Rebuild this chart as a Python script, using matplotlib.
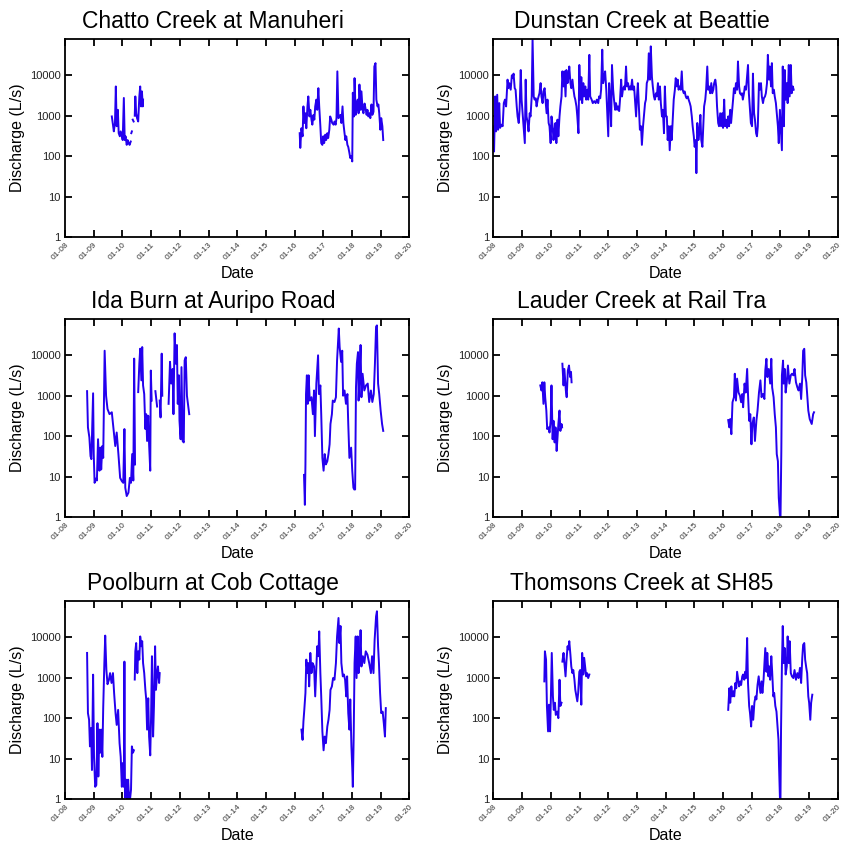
import numpy as np
import matplotlib
matplotlib.use('Agg')
import matplotlib.pyplot as plt
import matplotlib.dates as mdates
from matplotlib.ticker import FixedLocator, FuncFormatter, NullLocator
from datetime import datetime, timedelta

plt.rcParams['font.family'] = ['Liberation Sans', 'DejaVu Sans']

nan = np.nan

# discharge records, time in decimal years, flow in L/s (nan = gap in record)
chatto_t = [2009.63, 2009.67, 2009.70, 2009.74, 2009.77, 2009.80, 2009.84, 2009.87, 2009.91, 2009.94,
            2009.98, 2010.01, 2010.05, 2010.08, 2010.11, 2010.15, 2010.18, 2010.22, 2010.25, 2010.29,
            2010.30, 2010.31, 2010.33, 2010.34, 2010.36, 2010.39, 2010.41, 2010.43, 2010.45, 2010.48,
            2010.51, 2010.55, 2010.59, 2010.62, 2010.65, 2010.68, 2010.71, 2010.72, 2013.00,
            2016.18, 2016.20, 2016.24, 2016.28, 2016.31, 2016.34, 2016.38, 2016.41, 2016.45, 2016.48,
            2016.52, 2016.55, 2016.59, 2016.62, 2016.66, 2016.69, 2016.72, 2016.76, 2016.79, 2016.83,
            2016.86, 2016.90, 2016.93, 2016.97, 2017.00, 2017.03, 2017.07, 2017.10, 2017.14, 2017.17,
            2017.21, 2017.24, 2017.28, 2017.31, 2017.36, 2017.39, 2017.43, 2017.46, 2017.49, 2017.53,
            2017.56, 2017.60, 2017.63, 2017.67, 2017.70, 2017.74, 2017.77, 2017.80, 2017.84, 2017.87,
            2017.91, 2017.94, 2017.98, 2018.01, 2018.03, 2018.07, 2018.09, 2018.13, 2018.16, 2018.20,
            2018.23, 2018.26, 2018.30, 2018.33, 2018.37, 2018.40, 2018.44, 2018.47, 2018.51, 2018.54,
            2018.57, 2018.61, 2018.64, 2018.68, 2018.71, 2018.75, 2018.78, 2018.82, 2018.85, 2018.89,
            2018.92, 2018.95, 2018.99, 2019.02, 2019.06, 2019.09]
chatto_q = [960, 600, 410, 660, 5300, 550, 1400, 370, 310, 410,
            310, 250, 2750, 250, 310, 190, 250, 210, 190, 230,
            nan, 370, 410, nan, 800, 720, nan, 1000, 3000, 1150,
            870, 720, 3000, 5300, 1700, 4000, 1700, 2500, nan,
            370, 160, 490, 310, 1700, 660, 1150, 490, 1700, 3000,
            960, 1400, 800, 600, 1050, 800, 1700, 2500, 1400, 4800,
            1700, 550, 210, 190, 310, 210, 340, 250, 370, 280,
            450, 960, 800, 660, 600, 720, 600, 870, 12500, 870,
            960, 1050, 660, 1700, 660, 370, 250, 310, 190, 170,
            120, 90, 100, 74, 3700, 960, 8500, 1050, 1700, 2500,
            1150, 5900, 1400, 4000, 1400, 1150, 2000, 1550, 1050, 1400,
            960, 1150, 870, 1900, 1050, 1250, 16500, 20000, 2500, 1700,
            1900, 1150, 450, 870, 550, 250]

dunstan_t = [2008.00, 2008.02, 2008.06, 2008.09, 2008.13, 2008.16, 2008.20, 2008.23, 2008.28, 2008.32,
             2008.36, 2008.40, 2008.44, 2008.49, 2008.52, 2008.55, 2008.60, 2008.64, 2008.67, 2008.70,
             2008.74, 2008.77, 2008.81, 2008.84, 2008.88, 2008.91, 2008.95, 2008.98, 2009.02, 2009.05,
             2009.09, 2009.12, 2009.15, 2009.19, 2009.22, 2009.26, 2009.29, 2009.33, 2009.36, 2009.40,
             2009.43, 2009.47, 2009.50, 2009.54, 2009.57, 2009.60, 2009.64, 2009.67, 2009.71, 2009.74,
             2009.78, 2009.81, 2009.85, 2009.88, 2009.92, 2009.95, 2009.99, 2010.02, 2010.06, 2010.09,
             2010.12, 2010.16, 2010.19, 2010.23, 2010.26, 2010.30, 2010.33, 2010.37, 2010.40, 2010.44,
             2010.47, 2010.51, 2010.54, 2010.58, 2010.61, 2010.64, 2010.68, 2010.71, 2010.75, 2010.78,
             2010.82, 2010.85, 2010.89, 2010.92, 2010.96, 2010.99, 2011.03, 2011.06, 2011.09, 2011.13,
             2011.16, 2011.20, 2011.23, 2011.27, 2011.30, 2011.34, 2011.37, 2011.42, 2011.46, 2011.51,
             2011.56, 2011.60, 2011.65, 2011.68, 2011.72, 2011.75, 2011.79, 2011.82, 2011.86, 2011.89,
             2011.93, 2011.96, 2012.00, 2012.03, 2012.07, 2012.10, 2012.13, 2012.17, 2012.20, 2012.24,
             2012.27, 2012.31, 2012.34, 2012.38, 2012.41, 2012.45, 2012.48, 2012.51, 2012.55, 2012.58,
             2012.62, 2012.65, 2012.69, 2012.72, 2012.76, 2012.79, 2012.83, 2012.86, 2012.90, 2012.93,
             2012.97, 2013.00, 2013.03, 2013.07, 2013.10, 2013.14, 2013.17, 2013.21, 2013.24, 2013.28,
             2013.31, 2013.34, 2013.38, 2013.41, 2013.45, 2013.48, 2013.52, 2013.55, 2013.59, 2013.62,
             2013.66, 2013.69, 2013.73, 2013.76, 2013.80, 2013.83, 2013.87, 2013.90, 2013.94, 2013.97,
             2014.01, 2014.04, 2014.07, 2014.11, 2014.14, 2014.18, 2014.21, 2014.25, 2014.28, 2014.32,
             2014.35, 2014.39, 2014.42, 2014.45, 2014.49, 2014.52, 2014.56, 2014.59, 2014.63, 2014.66,
             2014.70, 2014.73, 2014.77, 2014.80, 2014.84, 2014.87, 2014.91, 2014.94, 2014.98, 2015.01,
             2015.05, 2015.07, 2015.10, 2015.14, 2015.17, 2015.21, 2015.24, 2015.28, 2015.31, 2015.34,
             2015.38, 2015.41, 2015.45, 2015.48, 2015.52, 2015.55, 2015.59, 2015.62, 2015.66, 2015.69,
             2015.73, 2015.76, 2015.79, 2015.83, 2015.86, 2015.90, 2015.93, 2015.97, 2016.00, 2016.04,
             2016.07, 2016.11, 2016.14, 2016.18, 2016.21, 2016.25, 2016.28, 2016.31, 2016.35, 2016.38,
             2016.42, 2016.45, 2016.49, 2016.52, 2016.56, 2016.59, 2016.63, 2016.66, 2016.69, 2016.73,
             2016.76, 2016.80, 2016.83, 2016.87, 2016.90, 2016.94, 2016.97, 2017.01, 2017.04, 2017.08,
             2017.11, 2017.15, 2017.18, 2017.21, 2017.25, 2017.28, 2017.32, 2017.35, 2017.39, 2017.42,
             2017.46, 2017.49, 2017.53, 2017.56, 2017.60, 2017.63, 2017.67, 2017.70, 2017.73, 2017.77,
             2017.80, 2017.84, 2017.87, 2017.91, 2017.94, 2017.98, 2018.01, 2018.05, 2018.08, 2018.12,
             2018.15, 2018.18, 2018.22, 2018.25, 2018.29, 2018.32, 2018.36, 2018.39, 2018.43, 2018.46]
dunstan_q = [540, 130, 3000, 410, 3300, 450, 2050, 500, 600, 550,
             2050, 2500, 1700, 7800, 4800, 6400, 4400, 10000, 8500, 11000,
             4800, 4400, 1700, 960, 660, 1400, 13500, 2500, 960, 450,
             210, 7800, 960, 660, 410, 1150, 960, 3000, 80000, 3000,
             2500, 2700, 1700, 2500, 3000, 3600, 6400, 3000, 2050, 4000,
             4800, 2500, 1150, 2500, 660, 550, 210, 960, 550, 250,
             410, 660, 210, 800, 310, 960, 1700, 3000, 12500, 5300,
             12500, 3000, 13500, 6400, 9000, 16500, 6400, 4800, 7800, 4800,
             3000, 2500, 1700, 960, 370, 18000, 2500, 9000, 2050, 6400,
             3000, 5300, 2500, 4400, 2500, 32000, 3000, 2500, 2050, 2300,
             2050, 2500, 2050, 3000, 2700, 4400, 43000, 6400, 9000, 12500,
             4400, 1400, 310, 6400, 2500, 550, 18000, 4400, 2500, 1400,
             2050, 1400, 1700, 1300, 2500, 7800, 3000, 4400, 5300, 4400,
             16500, 5300, 6400, 4400, 5300, 4400, 7800, 4400, 5300, 2500,
             960, 3000, 6400, 1400, 450, 550, 190, 550, 960, 2050,
             2500, 6400, 7800, 35000, 7800, 52000, 9000, 5300, 3000, 2500,
             3600, 3000, 6400, 2500, 5300, 2050, 960, 1400, 370, 5300,
             960, 960, 250, 550, 140, 550, 250, 960, 2500, 4400,
             8500, 5300, 7800, 4400, 5300, 4400, 12500, 4400, 3600, 4000,
             3000, 2700, 3000, 2500, 2050, 1700, 960, 550, 310, 170,
             250, 38, 660, 250, 370, 1050, 250, 170, 550, 1700,
             2500, 4400, 16500, 4400, 5300, 3600, 6400, 3600, 4400, 6400,
             7800, 5300, 1700, 660, 550, 1150, 550, 1150, 500, 2500,
             550, 800, 500, 960, 550, 1400, 660, 1150, 2500, 4800,
             3600, 6400, 4400, 22000, 5300, 3600, 3300, 3600, 2500, 3600,
             5300, 4400, 7800, 18000, 3600, 1400, 660, 550, 11000, 1150,
             800, 370, 310, 550, 6400, 4400, 6400, 3000, 2050, 2700,
             3000, 3600, 6400, 32000, 7800, 16500, 5300, 20000, 3600, 4400,
             3000, 2050, 1150, 550, 210, 1400, 550, 140, 16500, 550,
             13500, 2500, 6400, 2050, 18000, 3000, 18000, 3600, 5300, 4400]

ida_t = [2008.77, 2008.80, 2008.85, 2008.89, 2008.92, 2008.98, 2009.00, 2009.03, 2009.08, 2009.11,
         2009.15, 2009.20, 2009.23, 2009.26, 2009.30, 2009.33, 2009.38, 2009.43, 2009.48, 2009.55,
         2009.63, 2009.69, 2009.75, 2009.80, 2009.86, 2009.92, 2009.98, 2010.03, 2010.07, 2010.10,
         2010.15, 2010.21, 2010.26, 2010.30, 2010.34, 2010.38, 2010.41, 2010.44, 2010.50, 2010.55,
         2010.59, 2010.62, 2010.66, 2010.69, 2010.72, 2010.76, 2010.80, 2010.83, 2010.86, 2010.90,
         2010.93, 2010.97, 2010.99, 2011.02, 2011.08, 2011.15, 2011.21, 2011.25, 2011.30, 2011.33,
         2011.37, 2011.39, 2011.50, 2011.61, 2011.66, 2011.70, 2011.75, 2011.78, 2011.82, 2011.86,
         2011.90, 2011.93, 2011.97, 2011.99, 2012.03, 2012.06, 2012.10, 2012.14, 2012.17, 2012.21,
         2012.25, 2012.30, 2012.33, 2014.00,
         2016.33, 2016.36, 2016.38, 2016.40, 2016.43, 2016.46, 2016.49, 2016.53, 2016.59, 2016.64,
         2016.68, 2016.71, 2016.76, 2016.82, 2016.85, 2016.90, 2016.93, 2016.97, 2017.01, 2017.05,
         2017.09, 2017.14, 2017.18, 2017.22, 2017.25, 2017.30, 2017.33, 2017.39, 2017.44, 2017.48,
         2017.54, 2017.57, 2017.62, 2017.66, 2017.69, 2017.74, 2017.79, 2017.84, 2017.87, 2017.91,
         2017.97, 2018.01, 2018.05, 2018.08, 2018.11, 2018.14, 2018.17, 2018.21, 2018.23, 2018.26,
         2018.30, 2018.33, 2018.37, 2018.43, 2018.49, 2018.55, 2018.60, 2018.66, 2018.71, 2018.76,
         2018.80, 2018.84, 2018.87, 2018.91, 2018.95, 2019.00, 2019.05, 2019.09]
ida_q = [1300, 165, 93, 32, 27, 1150, 36, 7, 9, 8,
         84, 14, 52, 15, 57, 29, 13000, 1000, 470, 350,
         390, 150, 57, 123, 36, 9.3, 7.7, 7, 150, 5.3,
         3.3, 4, 9.3, 7, 36, 8, 8300, 20, nan, 1230,
         6200, 14600, 2400, 16000, 1800, 1100, 150, 350, 76, 320,
         63, 14, 4200, 760, nan, 1300, 540, nan, 760, 290,
         11000, 1000, nan, 630, 6900, 2000, 4600, 350, 35000, 6200,
         18000, 630, 3200, 240, 84, 5100, 76, 70, 7500, 9000,
         1000, 520, 350, nan,
         11, 2, 20, 1100, 3200, 630, 3200, 760, 920, 350,
         1350, 100, 2000, 10000, 1100, 1800, 350, 29, 14, 36,
         20, 24, 36, 63, 200, 350, 760, 700, 920, 7500,
         46000, 16000, 6900, 13000, 1000, 1350, 630, 1100, 200, 29,
         52, 14, 5.3, 4.8, 4.8, 1600, 6200, 12000, 760, 2400,
         18000, 920, 3500, 1350, 1800, 2000, 700, 1350, 700, 1100,
         6200, 51000, 55000, 2000, 1100, 430, 200, 135]

lauder_t = [2009.63, 2009.67, 2009.70, 2009.74, 2009.77, 2009.80, 2009.84, 2009.87, 2009.92, 2009.95,
            2009.99, 2010.02, 2010.06, 2010.09, 2010.13, 2010.16, 2010.20, 2010.23, 2010.26, 2010.30,
            2010.33, 2010.37, 2010.39, 2010.395, 2010.40, 2010.44, 2010.47, 2010.52, 2010.55, 2010.59,
            2010.63, 2010.67, 2010.70, 2010.72, 2013.00,
            2016.18, 2016.22, 2016.25, 2016.29, 2016.33, 2016.38, 2016.41, 2016.45, 2016.49, 2016.54,
            2016.59, 2016.63, 2016.67, 2016.70, 2016.75, 2016.79, 2016.84, 2016.87, 2016.91, 2016.95,
            2016.99, 2017.02, 2017.07, 2017.11, 2017.16, 2017.20, 2017.25, 2017.30, 2017.34, 2017.39,
            2017.44, 2017.47, 2017.51, 2017.54, 2017.59, 2017.64, 2017.68, 2017.71, 2017.76, 2017.80,
            2017.84, 2017.87, 2017.91, 2017.94, 2017.98, 2018.00, 2018.03, 2018.05, 2018.09, 2018.11,
            2018.15, 2018.18, 2018.22, 2018.26, 2018.31, 2018.36, 2018.40, 2018.45, 2018.49, 2018.54,
            2018.59, 2018.63, 2018.68, 2018.72, 2018.76, 2018.79, 2018.83, 2018.86, 2018.90, 2018.93,
            2018.97, 2019.02, 2019.09, 2019.14, 2019.17]
lauder_q = [1800, 1350, 2150, 630, 2150, 920, 430, 150, 165, 123,
            240, 1800, 84, 240, 70, 165, 43, 92, 200, 430,
            135, 200, 165, nan, 6200, 1800, 4600, 1350, 920, 4200,
            5600, 2900, 3900, 2150, nan,
            250, 165, 265, 112, 690, 920, 3500, 760, 2650, 1200,
            1000, 690, 1100, 520, 2000, 1200, 4600, 1100, 240, 350,
            63, 200, 290, 76, 240, 430, 1200, 2400, 920, 1100,
            830, 4200, 8200, 2900, 4600, 2000, 8200, 1600, 920, 350,
            165, 36, 24, 3, 1.1, 0.8, 43, 3200, 7400, 2000,
            4600, 1200, 2150, 5600, 2000, 3200, 3500, 3200, 4600, 2150,
            1600, 1350, 2000, 830, 2900, 13000, 14500, 3200, 2150, 1100,
            430, 265, 200, 350, 390]

poolburn_t = [2008.77, 2008.80, 2008.84, 2008.87, 2008.91, 2008.94, 2008.98, 2009.01, 2009.05, 2009.09,
              2009.13, 2009.16, 2009.20, 2009.23, 2009.26, 2009.30, 2009.33, 2009.37, 2009.40, 2009.44,
              2009.48, 2009.53, 2009.57, 2009.62, 2009.67, 2009.71, 2009.76, 2009.80, 2009.85, 2009.90,
              2009.94, 2009.98, 2010.01, 2010.05, 2010.07, 2010.09, 2010.13, 2010.16, 2010.20, 2010.23,
              2010.26, 2010.30, 2010.33, 2010.37, 2010.40, 2010.415, 2010.43, 2010.45, 2010.48, 2010.52,
              2010.55, 2010.59, 2010.62, 2010.66, 2010.69, 2010.72, 2010.76, 2010.80, 2010.83, 2010.86,
              2010.90, 2010.93, 2010.97, 2011.00, 2011.03, 2011.07, 2011.10, 2011.14, 2011.17, 2011.21,
              2011.24, 2011.28, 2011.30, 2013.50,
              2016.24, 2016.28, 2016.31, 2016.34, 2016.38, 2016.41, 2016.45, 2016.48, 2016.51, 2016.55,
              2016.59, 2016.63, 2016.68, 2016.72, 2016.76, 2016.79, 2016.83, 2016.86, 2016.90, 2016.93,
              2016.97, 2017.01, 2017.05, 2017.09, 2017.14, 2017.18, 2017.22, 2017.25, 2017.30, 2017.34,
              2017.39, 2017.44, 2017.48, 2017.53, 2017.56, 2017.60, 2017.63, 2017.68, 2017.72, 2017.76,
              2017.80, 2017.83, 2017.87, 2017.91, 2017.94, 2017.98, 2018.01, 2018.03, 2018.06, 2018.09,
              2018.13, 2018.16, 2018.20, 2018.23, 2018.26, 2018.30, 2018.33, 2018.38, 2018.43, 2018.48,
              2018.54, 2018.60, 2018.66, 2018.70, 2018.75, 2018.79, 2018.84, 2018.87, 2018.91, 2018.94,
              2018.98, 2019.02, 2019.07, 2019.11, 2019.15, 2019.18]
poolburn_q = [4100, 133, 91, 20, 57, 5.2, 1190, 11, 2, 2.2,
              75, 3.6, 52, 14, 52, 11, 177, 2300, 11000, 1580,
              690, 890, 1300, 740, 1300, 420, 133, 68, 160, 24,
              11, 2, 7.7, 2, 2500, 1.1, 3, 0.9, 3, 1.1,
              0.9, 1.7, 20, 14, 16, nan, 900, 4500, 7200, 1300,
              4500, 2800, 10500, 6000, 8000, 2300, 1300, 500, 290, 52,
              310, 35, 12, 110, 3400, 35, 195, 6000, 500, 1300,
              1900, 740, 1300, nan,
              52, 29, 83, 160, 420, 2800, 1300, 2300, 610, 4100,
              1300, 2300, 1900, 345, 1750, 6000, 3400, 14000, 1300, 345,
              47, 16, 35, 24, 62, 91, 160, 500, 610, 980,
              890, 2300, 10500, 30000, 7200, 19000, 2300, 1080, 1200, 890,
              345, 1080, 133, 52, 290, 20, 5.8, 2, 35, 2300,
              10500, 980, 10500, 1300, 2300, 15000, 1900, 3400, 2300, 4500,
              3700, 2300, 1300, 3400, 1300, 8700, 33000, 44000, 6000, 2300,
              420, 133, 145, 75, 35, 177]

thomsons_t = [2009.77, 2009.79, 2009.83, 2009.86, 2009.90, 2009.93, 2009.97, 2010.00, 2010.03, 2010.07,
              2010.10, 2010.14, 2010.17, 2010.22, 2010.26, 2010.30, 2010.33, 2010.37, 2010.385, 2010.40,
              2010.44, 2010.47, 2010.51, 2010.54, 2010.58, 2010.61, 2010.64, 2010.68, 2010.71, 2010.75,
              2010.78, 2010.82, 2010.85, 2010.89, 2010.92, 2010.95, 2010.99, 2011.02, 2011.06, 2011.09,
              2011.13, 2011.16, 2011.20, 2011.23, 2011.26, 2011.30, 2011.34, 2013.50,
              2016.18, 2016.22, 2016.25, 2016.29, 2016.32, 2016.36, 2016.39, 2016.43, 2016.46, 2016.49,
              2016.53, 2016.56, 2016.60, 2016.63, 2016.67, 2016.70, 2016.74, 2016.77, 2016.80, 2016.84,
              2016.87, 2016.91, 2016.94, 2016.98, 2017.01, 2017.05, 2017.09, 2017.13, 2017.16, 2017.20,
              2017.24, 2017.27, 2017.30, 2017.34, 2017.37, 2017.41, 2017.44, 2017.47, 2017.51, 2017.54,
              2017.58, 2017.61, 2017.64, 2017.68, 2017.71, 2017.75, 2017.78, 2017.82, 2017.86, 2017.89,
              2017.93, 2017.95, 2017.98, 2018.00, 2018.02, 2018.05, 2018.08, 2018.11, 2018.15, 2018.18,
              2018.22, 2018.25, 2018.29, 2018.32, 2018.36, 2018.40, 2018.45, 2018.49, 2018.54, 2018.59,
              2018.63, 2018.68, 2018.72, 2018.76, 2018.79, 2018.83, 2018.86, 2018.90, 2018.93, 2018.97,
              2019.00, 2019.04, 2019.07, 2019.11]
thomsons_q = [810, 4500, 2800, 200, 47, 215, 47, 345, 4100, 345,
              160, 240, 120, 145, 100, 890, 200, 240, nan, 2500,
              4100, 2300, 1080, 2500, 6000, 5000, 8000, 3700, 1900, 1300,
              1550, 890, 500, 345, 260, 420, 1400, 1550, 215, 4100,
              1200, 3100, 1750, 1080, 1300, 980, 1200, nan,
              160, 550, 240, 610, 345, 460, 345, 740, 550, 1400,
              890, 610, 810, 660, 1080, 1200, 890, 1400, 980, 9600,
              740, 200, 133, 62, 200, 91, 240, 345, 290, 660,
              1080, 660, 420, 810, 420, 890, 2300, 5400, 1400, 4100,
              1080, 1900, 890, 3400, 1400, 345, 420, 200, 145, 75,
              29, 6.3, 1.1, 0.9, 52, 1900, 19000, 2300, 5400, 1200,
              1900, 10500, 2300, 8000, 1300, 1080, 980, 1550, 890, 1300,
              980, 1750, 740, 3100, 6500, 7200, 2800, 1750, 1300, 345,
              240, 91, 240, 380]

titles = ['Chatto Creek at Manuheri', 'Dunstan Creek at Beattie',
          'Ida Burn at Auripo Road', 'Lauder Creek at Rail Tra',
          'Poolburn at Cob Cottage', 'Thomsons Creek at SH85']
series = [(chatto_t, chatto_q), (dunstan_t, dunstan_q),
          (ida_t, ida_q), (lauder_t, lauder_q),
          (poolburn_t, poolburn_q), (thomsons_t, thomsons_q)]
y_ticks = [1, 10, 100, 1000, 10000]


def to_dates(years):
    """Decimal years -> datetimes"""
    out = []
    for y in years:
        yr = int(y)
        out.append(datetime(yr, 1, 1) + timedelta(days=(y - yr) * 365.25))
    return out


fig = plt.figure(figsize=(8.45, 8.47), dpi=100)
lefts = [0.0769, 0.584]
bottoms = [0.7202, 0.3896, 0.0567]
w, h = 0.4075, 0.234

for i, (title, (t, q)) in enumerate(zip(titles, series)):
    ax = fig.add_axes([lefts[i % 2], bottoms[i // 2], w, h])
    ax.plot(to_dates(t), q, color='#2400ee', lw=1.4)
    ax.set_yscale('log')
    ax.set_ylim(1, 80000)
    ax.set_xlim(datetime(2008, 1, 1), datetime(2020, 1, 1))

    ax.xaxis.set_major_locator(mdates.YearLocator())
    ax.xaxis.set_major_formatter(mdates.DateFormatter('%m-%y'))
    ax.yaxis.set_major_locator(FixedLocator(y_ticks))
    ax.yaxis.set_major_formatter(FuncFormatter(lambda v, p: f'{int(v)}'))
    ax.yaxis.set_minor_locator(NullLocator())

    ax.tick_params(direction='in', top=True, right=True, length=5, width=1.3)
    ax.tick_params(axis='y', labelsize=8, pad=3, labelcolor='#222222')
    ax.tick_params(axis='x', labelsize=6, pad=3, labelcolor='#333333')
    for lab in ax.get_xticklabels():
        lab.set_rotation(45)
        lab.set_ha('right')
        lab.set_rotation_mode('anchor')
    for sp in ax.spines.values():
        sp.set_linewidth(1.3)

    # titles sit a little left of the axes centre, as in the original
    ax.set_title(title, fontsize=16.5, pad=8, x=0.43)
    ax.set_xlabel('Date', fontsize=11.5, labelpad=3)
    ax.set_ylabel('Discharge (L/s)', fontsize=11.5)

fig.savefig('out.png', dpi=100)
